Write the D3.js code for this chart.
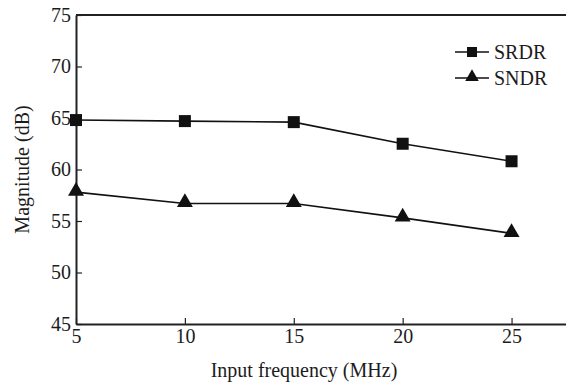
<!DOCTYPE html>
<html>
<head>
<meta charset="utf-8">
<script src="https://cdn.jsdelivr.net/npm/d3@7/dist/d3.min.js"></script>
<style>
  body { margin: 0; background: #fff; }
  text { font-family: "Liberation Serif", "DejaVu Serif", serif; fill: #1c1c1c; }
</style>
</head>
<body>
<svg id="chart" width="566" height="387"></svg>
<script>
const freqs = [5, 10, 15, 20, 25]
const srdr = [64.8, 64.7, 64.6, 62.5, 60.8]
const sndr = [57.8, 56.7, 56.7, 55.3, 53.8]
const yTicks = [45, 50, 55, 60, 65, 70, 75]
const seriesNames = ['SRDR', 'SNDR']

const margin = { top: 15, right: 0, bottom: 63, left: 76 }
const width = 566, height = 387
const fontSize = 20
const svg = d3.select('#chart')

const x = d3.scaleLinear().domain([5, 27.5]).range([margin.left, width - margin.right])
const y = d3.scaleLinear().domain([45, 75]).range([height - margin.bottom, margin.top])

const g = svg.append('g')

// top frame line
g.append('line')
  .attr('x1', x(5)).attr('x2', x(27.5))
  .attr('y1', y(75)).attr('y2', y(75))
  .attr('stroke', '#222').attr('stroke-width', 2)

const xAxis = g.append('g')
  .attr('transform', `translate(0,${y(45)})`)
  .call(d3.axisBottom(x).tickValues(freqs).tickSizeInner(-6).tickSizeOuter(0).tickPadding(5))
xAxis.select('.domain').attr('stroke', '#222').attr('stroke-width', 2)
xAxis.selectAll('.tick line').attr('stroke', '#222').attr('stroke-width', 1.2)
xAxis.selectAll('text').attr('font-size', fontSize).attr('font-family', null)

const yAxis = g.append('g')
  .attr('transform', `translate(${x(5)},0)`)
  .call(d3.axisLeft(y).tickValues(yTicks).tickSizeInner(-6).tickSizeOuter(0).tickPadding(5))
yAxis.select('.domain').attr('stroke', '#222').attr('stroke-width', 2)
yAxis.selectAll('.tick line').attr('stroke', '#222').attr('stroke-width', 1.2)
yAxis.selectAll('text').attr('font-size', fontSize).attr('font-family', null)
g.selectAll('.tick text').attr('fill', '#1c1c1c')

svg.append('text')
  .attr('x', 304).attr('y', 377)
  .attr('text-anchor', 'middle').attr('font-size', fontSize)
  .text('Input frequency (MHz)')

svg.append('text')
  .attr('transform', `translate(29,${(y(45) + y(75)) / 2}) rotate(-90)`)
  .attr('text-anchor', 'middle').attr('font-size', fontSize)
  .text('Magnitude (dB)')

const line = d3.line().x((d, i) => x(freqs[i])).y(d => y(d))
const triangle = d3.symbol().type(d3.symbolTriangle).size(110)

function drawSeries(values, marker) {
  g.append('path')
    .attr('d', line(values))
    .attr('fill', 'none').attr('stroke', '#111').attr('stroke-width', 1.6)
  const pts = g.selectAll(null).data(values).enter()
  if (marker === 'square') {
    pts.append('rect')
      .attr('x', (d, i) => x(freqs[i]) - 6).attr('y', d => y(d) - 6)
      .attr('width', 12).attr('height', 12).attr('fill', '#111')
  } else {
    pts.append('path')
      .attr('d', triangle)
      .attr('transform', (d, i) => `translate(${x(freqs[i])},${y(d) - 1})`)
      .attr('fill', '#111')
  }
}
drawSeries(srdr, 'square')
drawSeries(sndr, 'triangle')

// legend
const legend = svg.append('g')
seriesNames.forEach((name, i) => {
  const ly = 52 + i * 26
  legend.append('line')
    .attr('x1', 455).attr('x2', 489).attr('y1', ly).attr('y2', ly)
    .attr('stroke', '#111').attr('stroke-width', 1.6)
  if (i === 0) {
    legend.append('rect').attr('x', 467).attr('y', ly - 5).attr('width', 10).attr('height', 10).attr('fill', '#111')
  } else {
    legend.append('path').attr('d', d3.symbol().type(d3.symbolTriangle).size(80)())
      .attr('transform', `translate(472,${ly - 1})`).attr('fill', '#111')
  }
  legend.append('text')
    .attr('x', 494).attr('y', ly + 7)
    .attr('font-size', fontSize)
    .text(name)
})
</script>
</body>
</html>
